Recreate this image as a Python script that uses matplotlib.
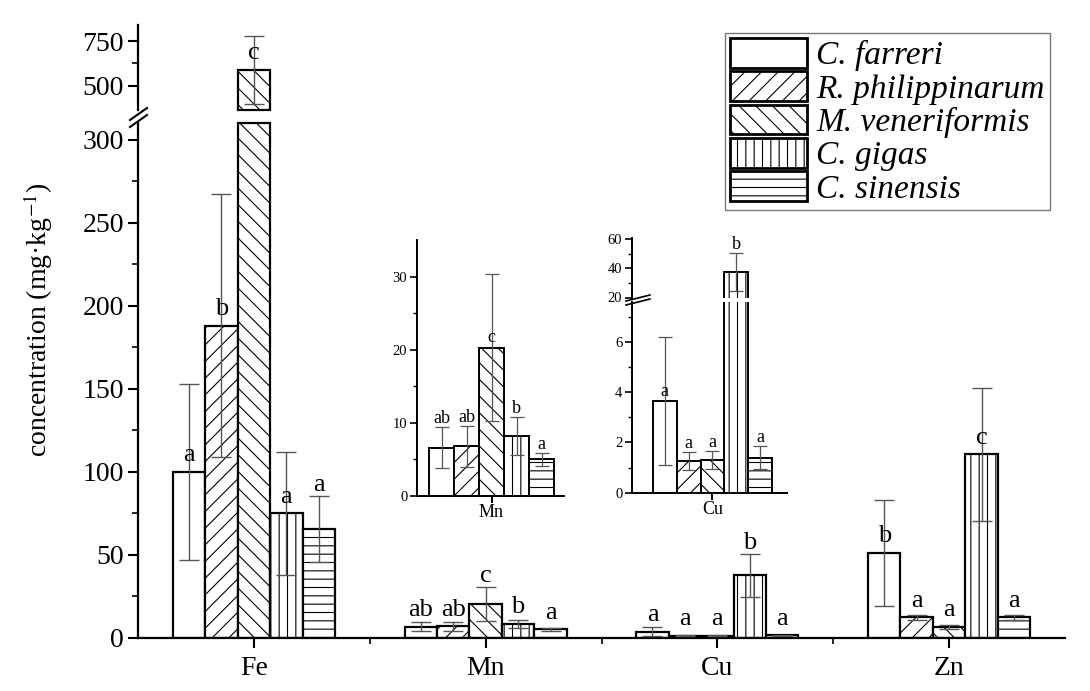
import numpy as np
import matplotlib
matplotlib.use("Agg")
import matplotlib.pyplot as plt
from matplotlib.patches import Patch
from matplotlib.lines import Line2D

plt.rcParams['font.family'] = ['Liberation Serif', 'DejaVu Serif']
plt.rcParams['mathtext.fontset'] = 'stix'
plt.rcParams['hatch.linewidth'] = 0.8

# data (mean, sd)
elements = ['Fe', 'Mn', 'Cu', 'Zn']
species = ['C. farreri', 'R. philippinarum', 'M. veneriformis', 'C. gigas', 'C. sinensis']

fe_mean = [100, 188, 590, 75, 65.5]
fe_sd = [53, 79, 190, 37, 19.7]
mn_mean = [6.6, 6.8, 20.3, 8.2, 5.0]
mn_sd = [2.8, 2.8, 10.0, 2.6, 0.9]
cu_mean = [3.65, 1.27, 1.3, 37.5, 1.4]
cu_sd = [2.55, 0.35, 0.35, 13.0, 0.45]
zn_mean = [51, 12.3, 6.4, 110.5, 12.3]
zn_sd = [32, 1.6, 1.0, 40, 1.5]

fe_letters = ['a', 'b', 'c', 'a', 'a']
mn_letters = ['ab', 'ab', 'c', 'b', 'a']
cu_letters = ['a', 'a', 'a', 'b', 'a']
zn_letters = ['b', 'a', 'a', 'c', 'a']

means = [fe_mean, mn_mean, cu_mean, zn_mean]
sds = [fe_sd, mn_sd, cu_sd, zn_sd]
letters = [fe_letters, mn_letters, cu_letters, zn_letters]

# which letters sit above the error cap instead of the bar top
main_above_err = [[0, 0, 0, 0, 1], [0, 0, 1, 0, 0], [0, 0, 0, 1, 0], [0, 0, 0, 0, 0]]
mn_inset_above_err = [1, 1, 0, 1, 1]
cu_inset_above_err = [0, 1, 1, 1, 1]

hatches = ['', '//', '\\\\', '||', '--']
err_color = '#555555'

fig = plt.figure(figsize=(10.9, 6.91), dpi=100)
W, H = 1090, 691

def px_axes(l, r, b, t):
    return fig.add_axes([l / W, 1 - b / H, (r - l) / W, (b - t) / H])

ax_lo = px_axes(138, 1065, 637.7, 123)
ax_hi = px_axes(138, 1065, 110, 25)
lo_lim = (0, 310)
hi_lim = (365, 840)

centers = np.arange(1, len(elements) + 1)
bw = 0.14

for ax in (ax_lo, ax_hi):
    for g, c in enumerate(centers):
        for i in range(len(species)):
            x = c + (i - 2) * bw
            m, s = means[g][i], sds[g][i]
            ax.bar(x, m, bw, color='white', edgecolor='black', linewidth=1.6,
                   hatch=hatches[i], zorder=2)
            ax.errorbar(x, m, yerr=s, fmt='none', ecolor=err_color, elinewidth=1,
                        capsize=7, capthick=1, zorder=3)
    ax.set_xlim(0.5, 4.5)
    for sp in ('top', 'right'):
        ax.spines[sp].set_visible(False)
    ax.spines['left'].set_linewidth(1.6)
    ax.spines['bottom'].set_linewidth(1.6)
    ax.tick_params(axis='y', which='major', length=7, width=1.5, labelsize=20, pad=3)
    ax.tick_params(axis='y', which='minor', length=4, width=1.2)

ax_lo.set_ylim(*lo_lim)
ax_hi.set_ylim(*hi_lim)
ax_lo.set_yticks(np.arange(0, 301, 50))
ax_lo.set_yticks(np.arange(25, 301, 50), minor=True)
ax_hi.set_yticks([500, 750])
ax_hi.set_yticks([625], minor=True)
ax_hi.spines['bottom'].set_visible(False)
ax_hi.set_xticks([])

ax_lo.set_xticks(centers)
ax_lo.set_xticklabels(elements)
ax_lo.set_xticks(centers[:-1] + 0.5, minor=True)
ax_lo.tick_params(axis='x', which='major', length=7, width=1.5, labelsize=20, pad=6)
ax_lo.tick_params(axis='x', which='minor', length=4, width=1.2)

# bar edges at the axis break
for g, c in enumerate(centers):
    for i in range(len(species)):
        x = c + (i - 2) * bw
        if means[g][i] > lo_lim[1]:
            ax_lo.plot([x - bw / 2, x + bw / 2], [lo_lim[1]] * 2, color='black',
                       lw=1.6, clip_on=False, zorder=4)
            ax_hi.plot([x - bw / 2, x + bw / 2], [hi_lim[0]] * 2, color='black',
                       lw=1.6, clip_on=False, zorder=4)

# significance letters
for g, c in enumerate(centers):
    for i in range(len(species)):
        x = c + (i - 2) * bw
        m, s = means[g][i], sds[g][i]
        ax = ax_hi if m > lo_lim[1] else ax_lo
        if main_above_err[g][i]:
            y, off = m + s, 8
        else:
            y, off = m, 12
        ax.annotate(letters[g][i], (x, y), xytext=(0, off), textcoords='offset points',
                    ha='center', va='center', fontsize=19, zorder=5)

# break marks on the main y axis
for dy in (0, 7):
    fig.add_artist(Line2D([130 / W, 147 / W], [1 - (127 - dy) / H, 1 - (115 - dy) / H],
                          color='black', lw=1.5))

fig.text(38 / W, 1 - 320 / H, 'concentration (mg·kg$^{-1}$)', rotation=90,
         ha='center', va='center', fontsize=20)

# legend
handles = [Patch(facecolor='white', edgecolor='black', linewidth=2, hatch=h) for h in hatches]
leg = fig.legend(handles, species, loc='upper right', bbox_to_anchor=(1050 / W, 1 - 33 / H),
                 prop={'style': 'italic', 'size': 24}, handlelength=2.3, handleheight=1.0,
                 labelspacing=0.0, handletextpad=0.3, borderpad=0.15, borderaxespad=0,
                 fancybox=False, framealpha=1)
leg.get_frame().set_edgecolor('#777777')
leg.get_frame().set_linewidth(1)

# inset helper
def draw_inset(ax, vals, errs, xlim):
    pos = np.arange(len(species)) - 2
    for i in range(len(species)):
        ax.bar(pos[i], vals[i], 1.0, color='white', edgecolor='black', linewidth=1.4,
               hatch=hatches[i], zorder=2)
        ax.errorbar(pos[i], vals[i], yerr=errs[i], fmt='none', ecolor=err_color,
                    elinewidth=0.9, capsize=5, capthick=0.9, zorder=3)
    ax.set_xlim(*xlim)
    for sp in ('top', 'right'):
        ax.spines[sp].set_visible(False)
    ax.spines['left'].set_linewidth(1.4)
    ax.spines['bottom'].set_linewidth(1.4)
    ax.tick_params(axis='y', which='major', length=5, width=1.2, labelsize=10.5, pad=2)
    ax.tick_params(axis='y', which='minor', length=3, width=1)
    return pos

# Mn inset
ax_mn = px_axes(417, 564, 496, 240)
pos = draw_inset(ax_mn, mn_mean, mn_sd, (-2.98, 2.9))
ax_mn.set_ylim(0, 35)
ax_mn.set_yticks([0, 10, 20, 30])
ax_mn.set_yticks([5, 15, 25], minor=True)
ax_mn.set_xticks([0])
ax_mn.set_xticklabels(['Mn'])
ax_mn.tick_params(axis='x', length=5, width=1.4, labelsize=13, pad=1)
for i in range(len(species)):
    if mn_inset_above_err[i]:
        y, off = mn_mean[i] + mn_sd[i], 6
    else:
        y, off = mn_mean[i], 7
    ax_mn.annotate(mn_letters[i], (pos[i], y), xytext=(0, off), textcoords='offset points',
                   ha='center', va='center', fontsize=13, zorder=5)

# Cu inset with broken axis
cu_lo_lim = (0, 7.6)
cu_hi_lim = (20, 61)
ax_cu = px_axes(632, 787, 492.7, 301.7)
ax_cu_hi = px_axes(632, 787, 297.5, 237.5)
for ax in (ax_cu, ax_cu_hi):
    pos = draw_inset(ax, cu_mean, cu_sd, (-3.38, 3.13))
ax_cu.set_ylim(*cu_lo_lim)
ax_cu.set_yticks([0, 2, 4, 6])
ax_cu.set_yticks([1, 3, 5, 7], minor=True)
ax_cu.set_xticks([0])
ax_cu.set_xticklabels(['Cu'])
ax_cu.tick_params(axis='x', length=5, width=1.4, labelsize=13, pad=1)
ax_cu_hi.set_ylim(*cu_hi_lim)
ax_cu_hi.set_yticks([20, 40, 60])
ax_cu_hi.set_yticks([30, 50], minor=True)
ax_cu_hi.spines['bottom'].set_visible(False)
ax_cu_hi.set_xticks([])
for i in range(len(species)):
    ax = ax_cu_hi if cu_mean[i] > cu_lo_lim[1] else ax_cu
    if cu_inset_above_err[i]:
        y, off = cu_mean[i] + cu_sd[i], 6
    else:
        y, off = cu_mean[i], 7
    ax.annotate(cu_letters[i], (pos[i], y), xytext=(0, off), textcoords='offset points',
                ha='center', va='center', fontsize=13, zorder=5)

for dy in (0, 4):
    fig.add_artist(Line2D([626 / W, 650 / W], [1 - (305 - dy) / H, 1 - (299 - dy) / H],
                          color='black', lw=1.2))

fig.savefig('out.png', dpi=100)
